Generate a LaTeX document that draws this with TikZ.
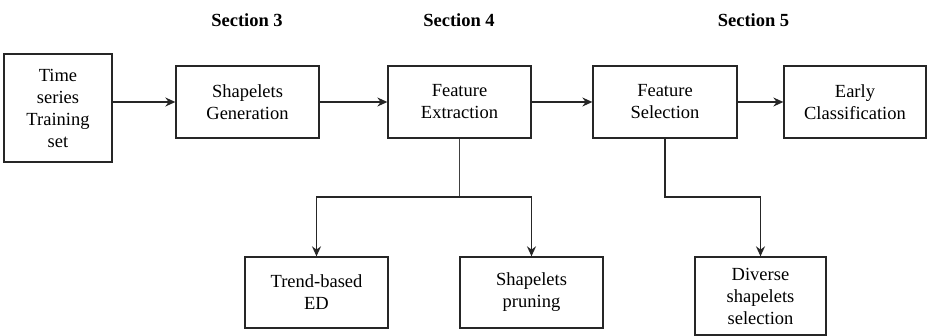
\documentclass[tikz,border=0pt]{standalone}
\usepackage{fontspec}
\setmainfont{LiberationSerif}[Extension=.ttf,UprightFont=*-Regular,BoldFont=*-Bold,ItalicFont=*-Italic,BoldItalicFont=*-BoldItalic]
\usetikzlibrary{arrows.meta}
\begin{document}
\begin{tikzpicture}[x=1pt,y=-1pt,
  box/.style={draw=black!85,line width=1.3pt,align=center,inner sep=0pt,
    font=\fontsize{18.5}{22}\selectfont},
  arr/.style={draw=black!85,line width=1.3pt,-{Stealth[length=10pt,width=9pt]}},
  ln/.style={draw=black!75,line width=1.3pt},
  sec/.style={font=\fontsize{18.5}{22}\selectfont\bfseries}]
\useasboundingbox (0,0) rectangle (927,336);
\node[sec] (s3) at (247,20) {Section 3};
\node[sec] (s4) at (459,20) {Section 4};
\node[sec] (s5) at (753.5,20) {Section 5};
\node[box,minimum width=108pt,minimum height=108pt] (ts) at (58,108) {Time\\series\\Training\\set};
\node[box,minimum width=143pt,minimum height=72pt] (sg) at (247.5,102) {Shapelets\\Generation};
\node[box,minimum width=143pt,minimum height=72pt] (fe) at (459.5,102) {Feature\\Extraction};
\node[box,minimum width=144pt,minimum height=72pt] (fs) at (665,102) {Feature\\Selection};
\node[box,minimum width=142pt,minimum height=72pt] (ec) at (855,102) {Early\\Classification};
\node[box,minimum width=143pt,minimum height=71pt] (tr) at (316.5,292.5) {Trend-based\\ED};
\node[box,minimum width=143pt,minimum height=71pt] (sp) at (531.5,292.5) {Shapelets\\pruning};
\node[box,minimum width=131pt,minimum height=78pt] (ds) at (760.5,296) {Diverse\\shapelets\\selection};
\coordinate (j1) at (459.5,197);
\coordinate (j2) at (665,197);
\draw[arr] (ts.east |- sg.west) -- (sg.west);
\draw[arr] (sg) -- (fe);
\draw[arr] (fe) -- (fs);
\draw[arr] (fs) -- (ec);
\draw[ln] (fe.south) -- (j1);
\draw[arr] (j1) -| (tr.north);
\draw[arr] (j1) -| (sp.north);
\draw[arr] (fs.south) -- (j2) -| (ds.north);
\end{tikzpicture}
\end{document}
